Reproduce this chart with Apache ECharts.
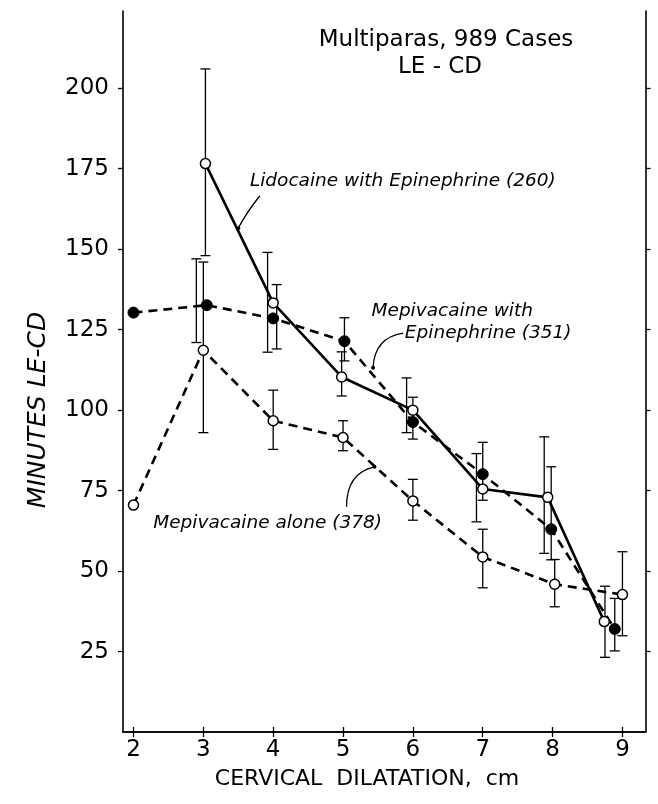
<!DOCTYPE html>
<html>
<head>
<meta charset="utf-8">
<script src="https://cdn.jsdelivr.net/npm/echarts@6/dist/echarts.min.js"></script>
<style>
  html, body { margin: 0; padding: 0; background: #fff; }
  #chart { width: 658px; height: 804px; }
</style>
</head>
<body>
<div id="chart"></div>
<script>
// tick values
const xTicks = [2, 3, 4, 5, 6, 7, 8, 9];
const yTicks = [25, 50, 75, 100, 125, 150, 175, 200];

// Lidocaine with Epinephrine (260)
const lidoX = [3.03, 4, 4.98, 6, 7, 7.93, 8.74];
const lidoY = [176.6, 133.3, 110.3, 100, 75.5, 72.9, 34.3];
const lidoErrX = [3.03, 4.05, 4.98, 6, 7, 7.88, 8.75];
const lidoLo = [148, 119, 104.4, 91, 72, 55.5, 23.2];
const lidoHi = [206, 139, 118.1, 104, 90, 91.7, 45.3];

// Mepivacaine with Epinephrine (351)
const mepiEpiX = [2, 3.05, 4, 5.02, 6, 7, 7.98, 8.89];
const mepiEpiY = [130.3, 132.6, 128.5, 121.4, 96.3, 80.1, 63, 32];
const mepiEpiErrX = [2.9, 3.92, 5.02, 5.91, 6.91, 7.98, 8.89];
const mepiEpiLo = [121, 118, 115.3, 93, 65.3, 53.5, 25.2];
const mepiEpiHi = [147, 149, 128.7, 110, 86.5, 82.4, 41.5];

// Mepivacaine alone (378)
const aloneX = [2, 3, 4, 5, 6, 7, 8.03, 9];
const aloneY = [70.5, 118.6, 96.7, 91.5, 71.8, 54.4, 45.9, 42.7];
const aloneErrX = [3, 4, 5, 6, 7, 8.03, 9];
const aloneLo = [93, 87.8, 87.4, 65.8, 44.8, 38.9, 29.9];
const aloneHi = [146, 106.2, 96.7, 78.5, 63, 53.6, 56];

const FONT = 'DejaVu Sans';

function pairs(xs, ys) {
  return xs.map((x, i) => [x, ys[i]]);
}
function bars(xs, lo, hi) {
  return xs.map((x, i) => [x, lo[i], hi[i]]);
}

function renderBar(params, api) {
  const x = api.value(0);
  const pLo = api.coord([x, api.value(1)]);
  const pHi = api.coord([x, api.value(2)]);
  const w = 5;
  const st = { stroke: '#000', lineWidth: 1.3 };
  return {
    type: 'group',
    children: [
      { type: 'line', shape: { x1: pLo[0], y1: pLo[1], x2: pHi[0], y2: pHi[1] }, style: st },
      { type: 'line', shape: { x1: pHi[0] - w, y1: pHi[1], x2: pHi[0] + w, y2: pHi[1] }, style: st },
      { type: 'line', shape: { x1: pLo[0] - w, y1: pLo[1], x2: pLo[0] + w, y2: pLo[1] }, style: st }
    ]
  };
}

function barSeries(data) {
  return {
    type: 'custom',
    renderItem: renderBar,
    encode: { x: 0, y: [1, 2] },
    data: data,
    z: 1,
    silent: true
  };
}

const axisLine = { show: true, lineStyle: { color: '#000', width: 1.6 } };
const axisTick = { show: true, inside: false, length: 5, lineStyle: { color: '#000', width: 1.3 } };

const myChart = echarts.init(document.getElementById('chart'));

const option = {
  backgroundColor: '#fff',
  animation: false,
  grid: { left: 123, right: 12.5, top: 11, bottom: 72 },
  xAxis: [
    {
      type: 'value', position: 'bottom', min: 1.85, max: 9.33,
      axisLine: axisLine,
      axisTick: Object.assign({}, axisTick, { customValues: xTicks }),
      axisLabel: { customValues: xTicks, margin: 7, color: '#000', fontFamily: FONT, fontSize: 23 },
      splitLine: { show: false }
    },
    {
      type: 'value', position: 'top', min: 1.85, max: 9.33,
      axisLine: axisLine,
      axisTick: Object.assign({}, axisTick, { customValues: xTicks }),
      axisLabel: { show: false },
      splitLine: { show: false }
    }
  ],
  yAxis: [
    {
      type: 'value', position: 'left', min: 0, max: 224,
      axisLine: axisLine,
      axisTick: Object.assign({}, axisTick, { customValues: yTicks }),
      axisLabel: { customValues: yTicks, margin: 14, color: '#000', fontFamily: FONT, fontSize: 23 },
      splitLine: { show: false }
    },
    {
      type: 'value', position: 'right', min: 0, max: 224,
      axisLine: axisLine,
      axisTick: Object.assign({}, axisTick, { customValues: yTicks }),
      axisLabel: { show: false },
      splitLine: { show: false }
    }
  ],
  series: [
    barSeries(bars(lidoErrX, lidoLo, lidoHi)),
    barSeries(bars(mepiEpiErrX, mepiEpiLo, mepiEpiHi)),
    barSeries(bars(aloneErrX, aloneLo, aloneHi)),
    {
      name: 'Mepivacaine alone',
      type: 'line',
      data: pairs(aloneX, aloneY),
      symbol: 'circle', symbolSize: 10,
      itemStyle: { color: '#fff', borderColor: '#000', borderWidth: 1.5 },
      lineStyle: { color: '#000', width: 2.6, type: [9, 6] },
      z: 3
    },
    {
      name: 'Mepivacaine with Epinephrine',
      type: 'line',
      data: pairs(mepiEpiX, mepiEpiY),
      symbol: 'circle', symbolSize: 11,
      itemStyle: { color: '#000', borderColor: '#000', borderWidth: 1 },
      lineStyle: { color: '#000', width: 2.6, type: [9, 6] },
      z: 4
    },
    {
      name: 'Lidocaine with Epinephrine',
      type: 'line',
      data: pairs(lidoX, lidoY),
      symbol: 'circle', symbolSize: 10,
      itemStyle: { color: '#fff', borderColor: '#000', borderWidth: 1.5 },
      lineStyle: { color: '#000', width: 2.6 },
      z: 5
    }
  ]
};

option && myChart.setOption(option);

// annotations, anchored in data units
const labels = [
  { text: 'Lidocaine with Epinephrine (260)', at: [3.667, 171.0] },
  { text: 'Mepivacaine with', at: [5.408, 130.6] },
  { text: 'Epinephrine (351)', at: [5.885, 123.9] },
  { text: 'Mepivacaine alone (378)', at: [2.283, 64.9] }
];
// leader curves: start, control, end (end gets a dot)
const leaders = [
  { from: [3.81, 166.6], ctrl: [3.62, 161.5], to: [3.50, 156.5] },
  { from: [5.86, 123.9], ctrl: [5.45, 122.5], to: [5.43, 113.2] },
  { from: [5.05, 70.0], ctrl: [5.05, 80.5], to: [5.45, 82.4] }
];

const px = p => myChart.convertToPixel({ xAxisIndex: 0, yAxisIndex: 0 }, p);
const graphics = [];

labels.forEach(l => {
  const p = px(l.at);
  graphics.push({
    type: 'text', x: p[0], y: p[1],
    style: { text: l.text, fill: '#000', font: 'italic 18.5px "DejaVu Sans"', textAlign: 'left', textVerticalAlign: 'middle' }
  });
});

leaders.forEach(d => {
  const a = px(d.from), c = px(d.ctrl), b = px(d.to);
  graphics.push({
    type: 'bezierCurve',
    shape: { x1: a[0], y1: a[1], cpx1: c[0], cpy1: c[1], x2: b[0], y2: b[1] },
    style: { stroke: '#000', lineWidth: 1.3, fill: null }
  });
  graphics.push({ type: 'circle', shape: { cx: b[0], cy: b[1], r: 2 }, style: { fill: '#000' } });
});

// titles
graphics.push(
  { type: 'text', x: 446, y: 40, style: { text: 'Multiparas, 989 Cases', fill: '#000', font: '23px "DejaVu Sans"', textAlign: 'center', textVerticalAlign: 'middle' } },
  { type: 'text', x: 440, y: 67, style: { text: 'LE - CD', fill: '#000', font: '23px "DejaVu Sans"', textAlign: 'center', textVerticalAlign: 'middle' } },
  { type: 'text', x: 367, y: 779, style: { text: 'CERVICAL  DILATATION,  cm', fill: '#000', font: '22px "DejaVu Sans"', textAlign: 'center', textVerticalAlign: 'middle' } },
  { type: 'text', x: 38, y: 410, rotation: Math.PI / 2, style: { text: 'MINUTES LE-CD', fill: '#000', font: 'italic 25px "DejaVu Sans"', textAlign: 'center', textVerticalAlign: 'middle' } }
);

myChart.setOption({ graphic: graphics });
</script>
</body>
</html>
